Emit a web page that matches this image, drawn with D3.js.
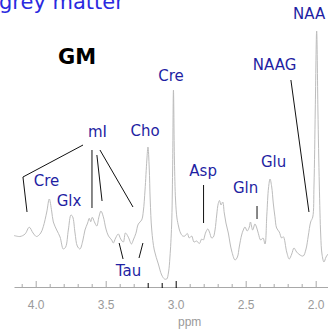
<!DOCTYPE html>
<html>
<head>
<meta charset="utf-8">
<script src="https://cdn.jsdelivr.net/npm/d3@7"></script>
<style>
  html, body { margin: 0; padding: 0; background: #fff; overflow: hidden; }
  svg { display: block; }
</style>
</head>
<body>
<svg id="chart" width="328" height="334"></svg>
<script>
// 1H MR spectrum of grey matter: chemical shift (ppm) and signal intensity (a.u.)
const ppm = [
  4.155, 4.112, 4.076, 4.046, 4.019, 3.994, 3.964, 3.946, 3.921, 3.903,
  3.886, 3.874, 3.850, 3.826, 3.803, 3.786, 3.767, 3.748, 3.736, 3.719,
  3.703, 3.684, 3.664, 3.648, 3.629, 3.617, 3.607, 3.596, 3.581, 3.564,
  3.548, 3.534, 3.517, 3.498, 3.480, 3.457, 3.446, 3.429, 3.410, 3.393,
  3.374, 3.359, 3.339, 3.316, 3.303, 3.284, 3.267, 3.243, 3.231, 3.219,
  3.206, 3.198, 3.189, 3.182, 3.171, 3.153, 3.124, 3.100, 3.080, 3.064,
  3.051, 3.041, 3.029, 3.022, 3.016, 3.009, 3.001, 2.991, 2.980, 2.969,
  2.950, 2.934, 2.917, 2.903, 2.886, 2.869, 2.850, 2.831, 2.814, 2.803,
  2.787, 2.771, 2.759, 2.743, 2.731, 2.719, 2.707, 2.696, 2.687, 2.676,
  2.664, 2.653, 2.641, 2.624, 2.612, 2.600, 2.576, 2.559, 2.546, 2.529,
  2.517, 2.505, 2.489, 2.474, 2.466, 2.450, 2.434, 2.423, 2.410, 2.393,
  2.376, 2.362, 2.349, 2.337, 2.326, 2.314, 2.303, 2.291, 2.279, 2.260,
  2.243, 2.231, 2.207, 2.189, 2.171, 2.155, 2.136, 2.112, 2.089, 2.069,
  2.053, 2.036, 2.021, 2.012, 2.003, 1.993, 1.984, 1.974, 1.964, 1.955,
  1.941, 1.926, 1.912
];
const intensity = [
  17.8, 17.4, 18.4, 21.1, 18.8, 17.4, 18.8, 21.3, 27.2, 32.4,
  27.6, 23.2, 20.0, 17.2, 12.4, 13.2, 20.0, 26.0, 25.3, 18.8,
  13.6, 12.4, 15.6, 20.0, 22.8, 24.7, 23.3, 25.1, 23.3, 21.6,
  25.3, 27.6, 25.3, 20.4, 17.6, 16.0, 14.8, 16.8, 18.4, 16.4,
  15.2, 18.8, 17.2, 14.4, 16.0, 18.7, 22.4, 24.0, 27.6, 36.0,
  48.0, 53.2, 44.8, 32.0, 20.0, 12.0, 6.4, 2.0, 0.4, 0.4,
  3.2, 9.2, 22.0, 44.0, 76.0, 48.0, 32.0, 24.8, 21.6, 19.3,
  17.6, 17.6, 18.6, 16.8, 17.6, 15.2, 15.6, 14.6, 16.4, 16.0,
  18.8, 20.4, 19.2, 16.8, 17.2, 20.0, 26.0, 30.6, 31.8, 30.0,
  31.2, 26.8, 22.8, 18.8, 14.8, 11.6, 8.0, 9.2, 13.2, 18.0,
  20.0, 21.2, 19.6, 21.2, 23.2, 20.0, 22.4, 21.2, 18.7, 16.0,
  16.8, 14.4, 26.0, 36.8, 40.4, 37.2, 30.8, 25.3, 20.8, 19.2,
  16.8, 17.3, 11.2, 8.4, 10.4, 12.8, 11.2, 10.0, 9.6, 12.4,
  17.6, 23.2, 25.2, 38.0, 68.0, 99.6, 68.0, 38.0, 18.0, 10.4,
  7.2, 9.2, 10.4
];

// Metabolite labels, placed in (ppm, intensity) units
const labelText = ["NAA", "NAAG", "Cre", "mI", "Cho", "Cre", "Glx", "Asp", "Gln", "Glu", "Tau"];
const labelPpm  = [2.162, 2.294, 3.034, 3.559, 3.219, 3.923, 3.762, 2.804, 2.501, 2.301, 3.337];
const labelInt  = [106.4, 86.0, 81.6, 59.2, 59.6, 39.6, 31.6, 43.6, 36.8, 47.2, 3.6];
const labelAnchor = ["start", "middle", "middle", "middle", "middle", "middle", "middle", "middle", "middle", "middle", "middle"];

// Leader lines from labels to peaks (ppm / intensity polylines)
const leaderPpm = [
  [2.177, 2.048],
  [3.662, 4.091, 4.062],
  [3.598, 3.598],
  [3.563, 3.526],
  [3.541, 3.305],
  [3.404, 3.376],
  [3.234, 3.262],
  [2.801, 2.801],
  [2.419, 2.419]
];
const leaderInt = [
  [80.0, 27.2],
  [54.0, 41.2, 27.2],
  [52.0, 28.8],
  [50.0, 31.6],
  [52.0, 29.2],
  [14.8, 8.4],
  [14.8, 8.8],
  [38.0, 22.8],
  [29.6, 24.4]
];

// Axis ticks every 0.1 ppm, labelled every 0.5 ppm
const tickValues = d3.range(41, 19, -1).map(d => d / 10);
const labelledTicks = [4.0, 3.5, 3.0, 2.5, 2.0];
const darkTicks = [3.2, 3.1, 3.0];

const svg = d3.select("#chart");

const x = d3.scaleLinear().domain([4.155, 1.912]).range([14, 328]);
const y = d3.scaleLinear().domain([0, 100]).range([280, 30]);
const axisY = 287;

// title (runs off the top edge)
svg.append("text")
  .attr("x", -1).attr("y", 9)
  .attr("font-family", "DejaVu Sans, sans-serif")
  .attr("font-size", 21)
  .attr("fill", "#2a2ae0")
  .text("grey matter");

svg.append("text")
  .attr("x", 77).attr("y", 57)
  .attr("text-anchor", "middle")
  .attr("dominant-baseline", "central")
  .attr("font-family", "DejaVu Sans, sans-serif")
  .attr("font-weight", "bold")
  .attr("font-size", 21)
  .attr("fill", "#000")
  .text("GM");

// spectrum trace
const spectrum = ppm.map((p, i) => [p, intensity[i]]);
svg.append("path")
  .datum(spectrum)
  .attr("fill", "none")
  .attr("stroke", "#bcbcbc")
  .attr("stroke-width", 1)
  .attr("d", d3.line()
    .x(d => x(d[0]))
    .y(d => y(d[1]))
    .curve(d3.curveCatmullRom.alpha(0.5)));

// leader lines
const leaderLine = d3.line().x(d => x(d[0])).y(d => y(d[1]));
leaderPpm.forEach((ps, k) => {
  svg.append("path")
    .datum(ps.map((p, i) => [p, leaderInt[k][i]]))
    .attr("fill", "none")
    .attr("stroke", "#111")
    .attr("stroke-width", 1)
    .attr("d", leaderLine);
});

// metabolite labels
labelText.forEach((t, i) => {
  svg.append("text")
    .attr("x", x(labelPpm[i]))
    .attr("y", y(labelInt[i]))
    .attr("text-anchor", labelAnchor[i])
    .attr("dominant-baseline", "central")
    .attr("font-family", "DejaVu Sans, sans-serif")
    .attr("font-size", 15)
    .attr("fill", "#1f1fa3")
    .text(t);
});

// ppm axis
const axis = d3.axisBottom(x)
  .tickValues(tickValues)
  .tickSizeInner(-3)
  .tickSizeOuter(0)
  .tickPadding(13)
  .tickFormat(d => labelledTicks.some(v => Math.abs(v - d) < 1e-6) ? d3.format(".1f")(d) : "");

const gAxis = svg.append("g")
  .attr("transform", `translate(0,${axisY})`)
  .call(axis);

gAxis.select(".domain").attr("stroke", "#a8a8a8");
gAxis.selectAll(".tick line")
  .attr("stroke", d => darkTicks.some(v => Math.abs(v - d) < 1e-6) ? "#000" : "#a8a8a8")
  .attr("y1", 1)
  .attr("y2", d => {
    const major = labelledTicks.some(v => Math.abs(v - d) < 1e-6);
    const dark = darkTicks.some(v => Math.abs(v - d) < 1e-6);
    return major ? -6 : (dark ? -4 : -3);
  });
gAxis.selectAll(".tick text")
  .attr("font-family", "Liberation Sans, Arial, sans-serif")
  .attr("font-size", 12)
  .attr("fill", "#9a9a9a");

svg.append("text")
  .attr("x", x(2.9)).attr("y", 322)
  .attr("text-anchor", "middle")
  .attr("dominant-baseline", "central")
  .attr("font-family", "Liberation Sans, Arial, sans-serif")
  .attr("font-size", 12)
  .attr("fill", "#9a9a9a")
  .text("ppm");
</script>
</body>
</html>
